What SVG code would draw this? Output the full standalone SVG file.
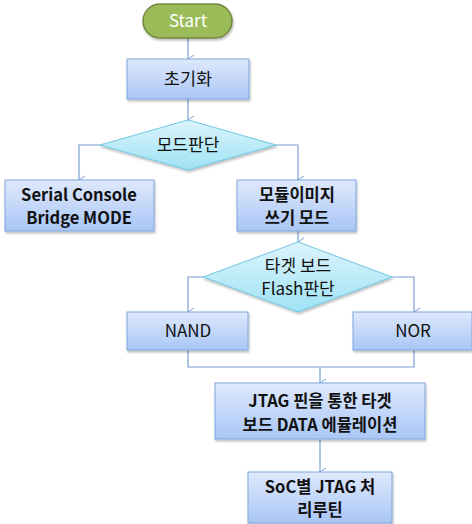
<svg xmlns="http://www.w3.org/2000/svg" width="472" height="524" viewBox="0 0 472 524">
<defs>
<linearGradient id="gBox" x1="0" y1="0" x2="0" y2="1">
<stop offset="0" stop-color="#dfe9fc"/>
<stop offset="1" stop-color="#a9c6f6"/>
</linearGradient>
<linearGradient id="gDia" x1="0" y1="0" x2="0" y2="1">
<stop offset="0" stop-color="#dcf4fb"/>
<stop offset="1" stop-color="#9fe2f5"/>
</linearGradient>
<filter id="sh" x="-10%" y="-10%" width="125%" height="135%">
<feDropShadow dx="1" dy="2" stdDeviation="1.2" flood-color="#000" flood-opacity="0.25"/>
</filter>
<marker id="arr" markerWidth="10" markerHeight="10" refX="5" refY="8" orient="auto" markerUnits="userSpaceOnUse" viewBox="0 0 10 10">
<path d="M1 2 L5 8 L9 2" fill="none" stroke="#7ba0d4" stroke-width="1"/>
</marker>
<style>
.box{fill:url(#gBox);stroke:#7fa5dc;stroke-width:1;filter:url(#sh)}
.dia{fill:url(#gDia);stroke:#6ec6e2;stroke-width:1;filter:url(#sh)}
.t{font-family:"Noto Sans CJK KR","Noto Sans",sans-serif;font-size:17px;fill:#111;text-anchor:middle}
.b{font-weight:bold;font-size:16.5px}
.c{fill:none;stroke:#7ba0d4;stroke-width:1.2}
</style>
</defs>
<g id="connectors">
<path class="c" d="M188 38 V59" marker-end="url(#arr)"/>
<path class="c" d="M188 99 V120" marker-end="url(#arr)"/>
<path class="c" d="M100 145 H79 V180" marker-end="url(#arr)"/>
<path class="c" d="M276 145 H298 V180" marker-end="url(#arr)"/>
<path class="c" d="M298 231 V242" marker-end="url(#arr)"/>
<path class="c" d="M203 277 H188 V312" marker-end="url(#arr)"/>
<path class="c" d="M392 277 H414 V312" marker-end="url(#arr)"/>
<path class="c" d="M188 350 V367 H414 V350"/>
<path class="c" d="M320 367 V383" marker-end="url(#arr)"/>
<path class="c" d="M320 439 V472" marker-end="url(#arr)"/>
</g>
<g id="start">
<rect x="143" y="4" width="89" height="34" rx="17" ry="17" fill="#9bbb59" stroke="#71893f" stroke-width="1.5" filter="url(#sh)"/>
<text class="t" x="188" y="27" style="fill:#fff;font-size:17px">Start</text>
</g>
<g id="init">
<rect class="box" x="127" y="59" width="122" height="40"/>
<text class="t" x="188" y="85" style="font-size:17.5px">초기화</text>
</g>
<g id="mode">
<polygon class="dia" points="188,120 276,145 188,170 100,145"/>
<text class="t" x="188" y="151">모드판단</text>
</g>
<g id="serial">
<rect class="box" x="5" y="180" width="149" height="51"/>
<text class="t b" x="79" y="201">Serial Console</text>
<text class="t b" x="79" y="224">Bridge MODE</text>
</g>
<g id="write">
<rect class="box" x="237" y="180" width="119" height="51"/>
<text class="t b" x="297" y="201">모듈이미지</text>
<text class="t b" x="297" y="224">쓰기 모드</text>
</g>
<g id="flash">
<polygon class="dia" points="298,242 392,277 298,312 203,277"/>
<text class="t" x="298" y="272">타겟 보드</text>
<text class="t" x="298" y="295">Flash판단</text>
</g>
<g id="nand">
<rect class="box" x="127" y="312" width="121" height="38"/>
<text class="t" x="188" y="337">NAND</text>
</g>
<g id="nor">
<rect class="box" x="353" y="312" width="119" height="38"/>
<text class="t" x="413" y="337">NOR</text>
</g>
<g id="jtag">
<rect class="box" x="215" y="383" width="210" height="56"/>
<text class="t b" x="320" y="407">JTAG 핀을 통한 타겟</text>
<text class="t b" x="320" y="431">보드 DATA 에뮬레이션</text>
</g>
<g id="soc">
<rect class="box" x="248" y="472" width="144" height="51"/>
<text class="t b" x="320" y="493">SoC별 JTAG 처</text>
<text class="t b" x="320" y="516">리루틴</text>
</g>
</svg>
